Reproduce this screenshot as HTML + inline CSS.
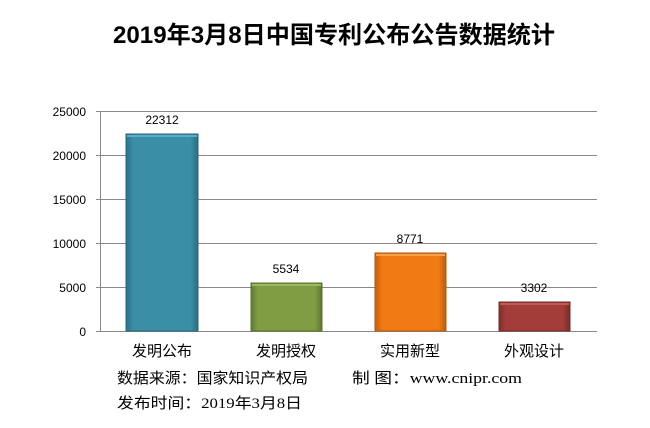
<!DOCTYPE html>
<html><head><meta charset="utf-8"><style>
html,body{margin:0;padding:0;background:#fff;}
svg{display:block}
</style></head><body>
<svg width="650" height="428" xmlns="http://www.w3.org/2000/svg" font-family="Liberation Sans, Noto Sans CJK SC, sans-serif">
<defs>
<linearGradient id="g1" x1="0" x2="1"><stop offset="0" stop-color="#2a7189"/><stop offset="0.1" stop-color="#3a8ea6"/><stop offset="0.9" stop-color="#3a8ea6"/><stop offset="1" stop-color="#2a6a80"/></linearGradient>
<linearGradient id="g2" x1="0" x2="1"><stop offset="0" stop-color="#617a34"/><stop offset="0.1" stop-color="#7f9e44"/><stop offset="0.9" stop-color="#7f9e44"/><stop offset="1" stop-color="#5c7431"/></linearGradient>
<linearGradient id="g3" x1="0" x2="1"><stop offset="0" stop-color="#c2600e"/><stop offset="0.1" stop-color="#f07a14"/><stop offset="0.9" stop-color="#f07a14"/><stop offset="1" stop-color="#b85a0e"/></linearGradient>
<linearGradient id="g4" x1="0" x2="1"><stop offset="0" stop-color="#7e2f2c"/><stop offset="0.1" stop-color="#a33d39"/><stop offset="0.9" stop-color="#a33d39"/><stop offset="1" stop-color="#772c29"/></linearGradient>
</defs>
<text x="334" y="43" text-anchor="middle" font-size="24" font-weight="bold" textLength="442" lengthAdjust="spacingAndGlyphs">2019年3月8日中国专利公布公告数据统计</text>
<g stroke="#888" stroke-width="1">
<line x1="100" y1="111.5" x2="597" y2="111.5"/>
<line x1="100" y1="155.5" x2="597" y2="155.5"/>
<line x1="100" y1="199.5" x2="597" y2="199.5"/>
<line x1="100" y1="243.5" x2="597" y2="243.5"/>
<line x1="100" y1="287.5" x2="597" y2="287.5"/>
<line x1="100" y1="331.5" x2="597" y2="331.5"/>
<line x1="100.5" y1="111" x2="100.5" y2="332"/>
<line x1="96" y1="111.5" x2="100" y2="111.5"/><line x1="96" y1="155.5" x2="100" y2="155.5"/><line x1="96" y1="199.5" x2="100" y2="199.5"/><line x1="96" y1="243.5" x2="100" y2="243.5"/><line x1="96" y1="287.5" x2="100" y2="287.5"/><line x1="96" y1="331.5" x2="100" y2="331.5"/>
</g>
<g font-size="12" text-anchor="end" fill="#000">
<text x="86" y="116">25000</text><text x="86" y="160">20000</text><text x="86" y="204">15000</text><text x="86" y="248">10000</text><text x="86" y="292">5000</text><text x="86" y="336">0</text>
</g>
<rect x="126" y="134" width="72" height="197" fill="url(#g1)" stroke="#2a6678" stroke-width="1"/>
<rect x="127" y="135" width="70" height="2" fill="#5aaecb"/>
<rect x="251" y="283" width="71" height="48" fill="url(#g2)" stroke="#5a7030"/>
<rect x="252" y="284" width="69" height="2" fill="#9abb60"/>
<rect x="375" y="253" width="71" height="78" fill="url(#g3)" stroke="#b05a10"/>
<rect x="376" y="254" width="69" height="2" fill="#f6a050"/>
<rect x="499" y="302" width="71" height="29" fill="url(#g4)" stroke="#722b28"/>
<rect x="500" y="303" width="69" height="2" fill="#c05a55"/>
<g font-size="12" text-anchor="middle">
<text x="162" y="124">22312</text><text x="286" y="273">5534</text><text x="410" y="243">8771</text><text x="534" y="292">3302</text>
</g>
<g font-size="15" text-anchor="middle">
<text x="162" y="356">发明公布</text><text x="286" y="356">发明授权</text><text x="410" y="356">实用新型</text><text x="534" y="356">外观设计</text>
</g>
<g font-size="15" font-family="Liberation Serif, Noto Sans CJK SC, serif">
<text x="117" y="383" textLength="191" lengthAdjust="spacingAndGlyphs">数据来源：国家知识产权局</text>
<text x="352" y="383" textLength="170" lengthAdjust="spacingAndGlyphs">制 图：www.cnipr.com</text>
<text x="117" y="408" textLength="185" lengthAdjust="spacingAndGlyphs">发布时间：2019年3月8日</text>
</g>
</svg>
</body></html>
